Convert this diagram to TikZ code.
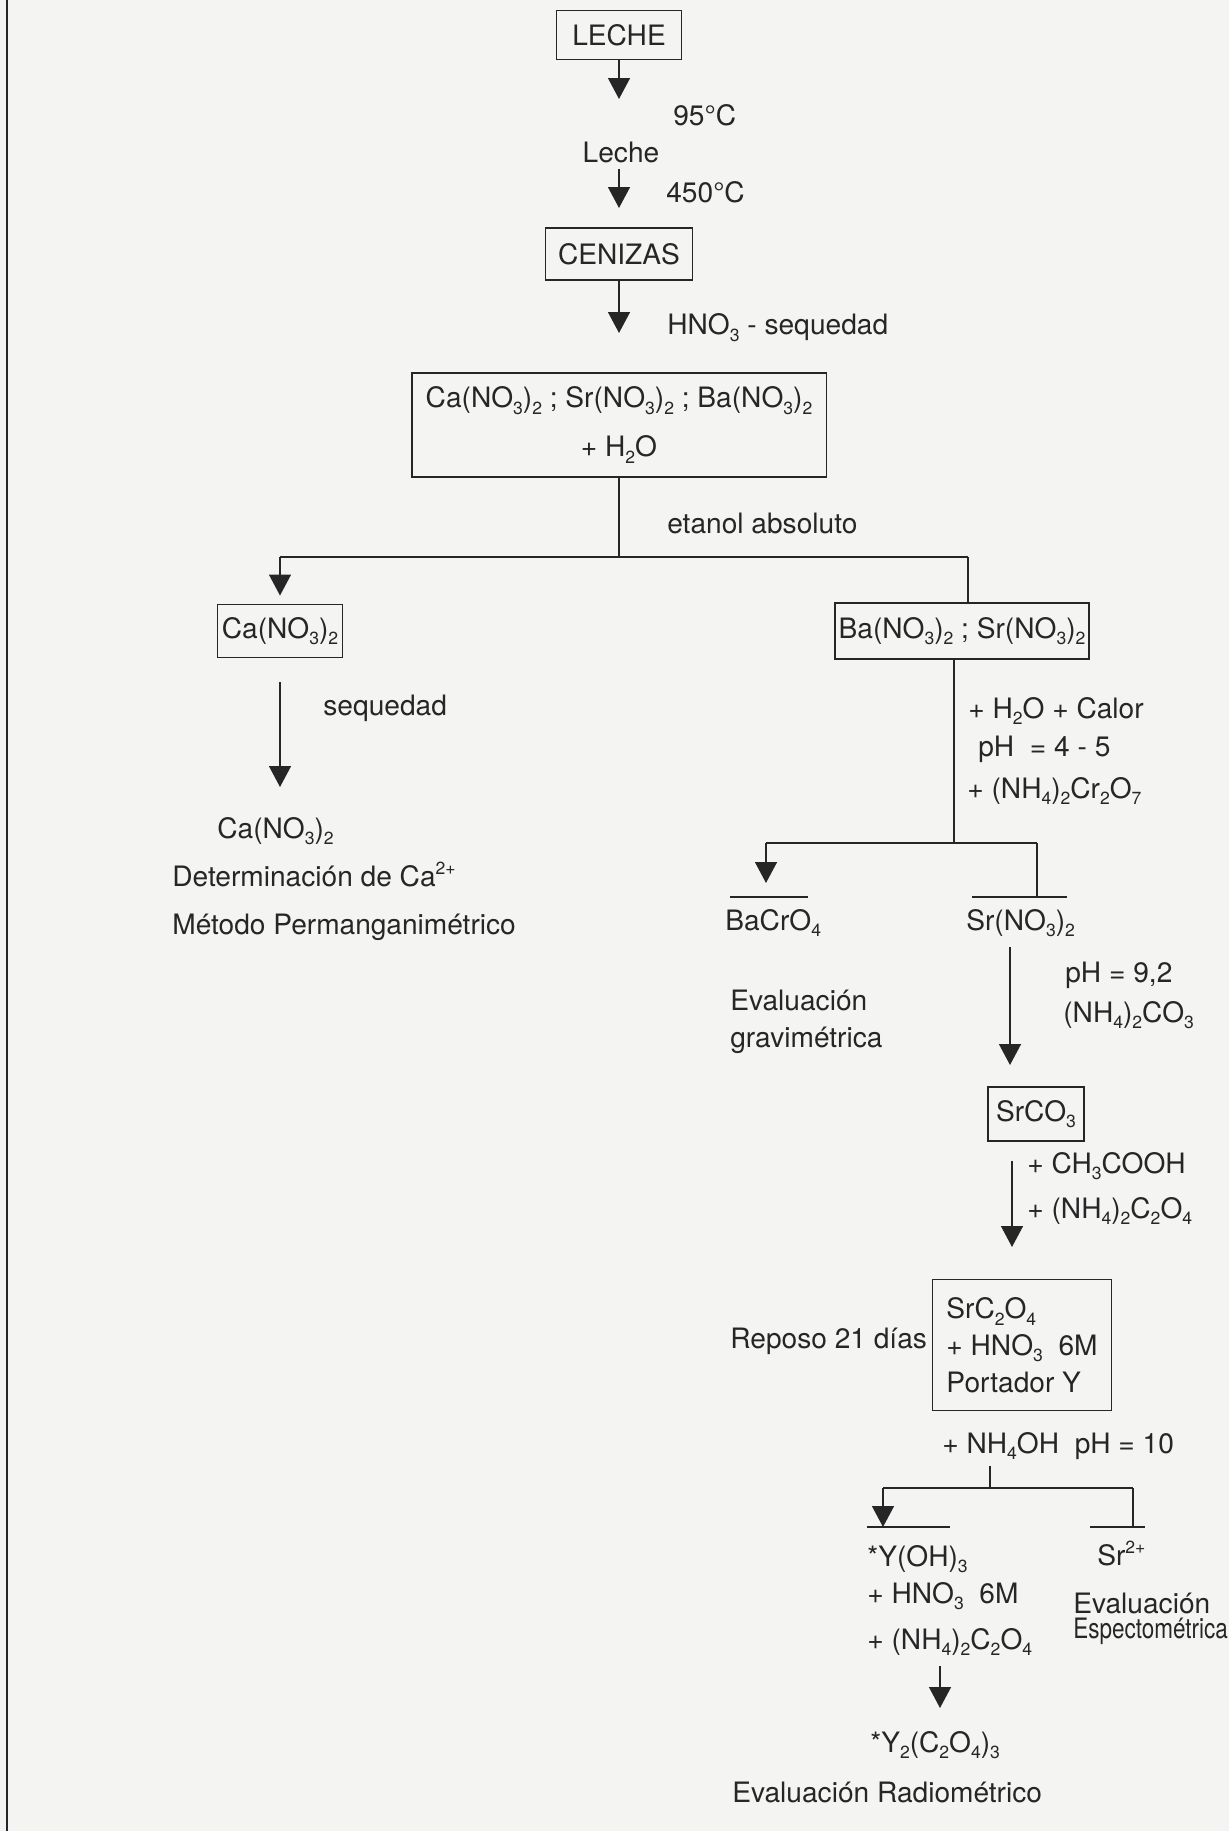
\documentclass[tikz,border=0pt]{standalone}
\usepackage{fontspec}
\setmainfont{TeX Gyre Heros}
\usepackage{graphicx}
\usetikzlibrary{arrows.meta}
\newcommand{\chsub}[1]{\raisebox{-0.45ex}{\fontsize{10}{10}\selectfont #1}}
\newcommand{\chsup}[1]{\raisebox{0.75ex}{\fontsize{10}{10}\selectfont #1}}
\definecolor{ink}{RGB}{38,38,38}
\definecolor{paper}{RGB}{244,245,243}
\tikzset{
  box/.style={draw=ink, line width=1.1pt, inner sep=2pt, text=ink},
  txt/.style={inner sep=0pt, text=ink},
  arr/.style={-{Triangle[width=0.44cm,length=0.42cm]}, draw=ink, line width=0.8pt},
  link/.style={draw=ink, line width=0.8pt},
  bar/.style={draw=ink, line width=1.1pt},
}
\begin{document}
\begin{tikzpicture}[x=0.02cm, y=-0.02cm, font=\fontsize{16}{19}\selectfont]
  \fill[paper] (0,0) rectangle (1229,1831);
  \useasboundingbox (0,0) rectangle (1229,1831);
  \draw[line width=1.7pt, ink] (7,0) -- (7,1831);

  % main line
  \node[box, minimum width=2.5cm, minimum height=0.98cm] (leche) at (619,35) {LECHE};
  \node[txt, anchor=base west] (t95) at (673,126) {95°C};
  \node[txt, anchor=base] (leche2) at (621,163) {Leche};
  \node[txt, anchor=base west] (t450) at (666,203) {450°C};
  \node[box, minimum width=2.94cm, minimum height=1.04cm] (cenizas) at (619,254) {CENIZAS};
  \node[txt, anchor=base west] (hno) at (667,335) {HNO\chsub{3} - sequedad};
  \node[box, minimum width=8.3cm, minimum height=2.08cm, align=center,
        font=\fontsize{16}{28}\selectfont] (mezcla) at (619,425)
    {Ca(NO\chsub{3})\chsub{2} ; Sr(NO\chsub{3})\chsub{2} ; Ba(NO\chsub{3})\chsub{2}\\ + H\chsub{2}O};
  \node[txt, anchor=base west] (etanol) at (667,533) {etanol absoluto};

  % calcium branch
  \node[box, minimum width=2.5cm, minimum height=1.06cm, inner sep=0pt] (ca) at (280,631) {Ca(NO\chsub{3})\chsub{2}};
  \node[txt, anchor=base west] (seq) at (323,715) {sequedad};
  \node[txt, anchor=base west] (ca2) at (217,838) {Ca(NO\chsub{3})\chsub{2}};
  \node[txt, anchor=base west] (det) at (172,886) {Determinación de Ca\chsup{2+}};
  \node[txt, anchor=base west] (met) at (172,934) {Método Permanganimétrico};

  % barium / strontium branch
  \node[box, minimum width=5.08cm, minimum height=1.12cm, inner sep=0pt] (ba) at (962,631)
    {Ba(NO\chsub{3})\chsub{2} ; Sr(NO\chsub{3})\chsub{2}};
  \node[txt, anchor=base west] (calor) at (968,718) {+ H\chsub{2}O + Calor};
  \node[txt, anchor=base west] (ph45) at (978,756) {pH\ \ = 4 - 5};
  \node[txt, anchor=base west] (dicr) at (967,798) {+ (NH\chsub{4})\chsub{2}Cr\chsub{2}O\chsub{7}};
  \node[txt, anchor=base west] (bacro) at (725,930) {BaCrO\chsub{4}};
  \node[txt, anchor=base west] (srno) at (966,930) {Sr(NO\chsub{3})\chsub{2}};
  \node[txt, anchor=base west] (eva) at (730,1010) {Evaluación};
  \node[txt, anchor=base west] (grav) at (730,1047) {gravimétrica};
  \node[txt, anchor=base west] (ph92) at (1065,982) {pH = 9,2};
  \node[txt, anchor=base west] (carb) at (1063,1022) {(NH\chsub{4})\chsub{2}CO\chsub{3}};
  \node[box, minimum width=1.92cm, minimum height=1.08cm, inner sep=0pt] (srco) at (1036,1114) {SrCO\chsub{3}};
  \node[txt, anchor=base west] (acet) at (1027,1173) {+ CH\chsub{3}COOH};
  \node[txt, anchor=base west] (oxa) at (1027,1218) {+ (NH\chsub{4})\chsub{2}C\chsub{2}O\chsub{4}};
  \node[box, minimum width=3.58cm, minimum height=2.62cm, align=left,
        font=\fontsize{16}{21}\selectfont] (srox) at (1022,1345)
    {SrC\chsub{2}O\chsub{4}\\ + HNO\chsub{3}\ \ 6M\\ Portador Y};
  \node[txt, anchor=base west] (reposo) at (730,1348) {Reposo 21 días};
  \node[txt, anchor=base west] (nhoh) at (942,1453) {+ NH\chsub{4}OH\ \ pH = 10};

  % yttrium
  \node[txt, anchor=base west] (yoh) at (867,1566) {*Y(OH)\chsub{3}};
  \node[txt, anchor=base west] (hno2) at (867,1603) {+ HNO\chsub{3}\ \ 6M};
  \node[txt, anchor=base west] (oxa2) at (867,1649) {+ (NH\chsub{4})\chsub{2}C\chsub{2}O\chsub{4}};
  \node[txt, anchor=base west] (yox) at (870,1752) {*Y\chsub{2}(C\chsub{2}O\chsub{4})\chsub{3}};
  \node[txt, anchor=base west] (radio) at (732,1802) {Evaluación Radiométrico};
  \node[txt, anchor=base west] (sr2) at (1097,1565) {Sr\chsup{2+}};
  \node[txt, anchor=base west] (eva2) at (1073,1613) {Evaluación};
  \node[txt, anchor=base west] (esp) at (1073,1638) {\scalebox{0.8}[1]{Espectométrica}};

  % junctions and free ends
  \coordinate (a1) at (619,99);
  \coordinate (a2) at (619,208);
  \coordinate (a3) at (619,333);
  \coordinate (j1) at (619,557);
  \coordinate (jl) at (280,557);
  \coordinate (jr) at (968,557);
  \coordinate (s2) at (280,787);
  \coordinate (j2) at (954,843);
  \coordinate (j2l) at (766,843);
  \coordinate (j2r) at (1037,843);
  \coordinate (b1) at (766,883);
  \coordinate (b2) at (1037,897);
  \coordinate (ba1) at (730,897);
  \coordinate (ba2) at (808,897);
  \coordinate (sr1) at (972,897);
  \coordinate (sr2b) at (1067,897);
  \coordinate (c1) at (1010,1065);
  \coordinate (c2) at (1012,1247);
  \coordinate (j3) at (990,1488);
  \coordinate (j3l) at (883,1488);
  \coordinate (j3r) at (1133,1488);
  \coordinate (d1) at (883,1527);
  \coordinate (d2) at (1133,1527);
  \coordinate (y1) at (867,1527);
  \coordinate (y2) at (950,1527);
  \coordinate (z1) at (1090,1527);
  \coordinate (z2) at (1145,1527);
  \coordinate (e1) at (940,1708);

  \begin{scope}[arr]
    \draw (leche) to (a1);
    \draw[shorten <=0.1cm] (leche2.south -| a2) to (a2);
    \draw (cenizas) to (a3);
    \draw[shorten >=0.16cm] (jl) to (ca);
    \draw[shorten <=0.48cm] (ca.south) to (s2);
    \draw (j2l) to (b1);
    \draw[shorten <=0.2cm] (srno.south -| c1) to (c1);
    \draw[shorten <=0.38cm] (srco.south -| c2) to (c2);
    \draw (j3l) to (d1);
    \draw[shorten <=0.2cm] (oxa2.south -| e1) to (e1);
  \end{scope}
  \begin{scope}[link]
    \draw (mezcla) to (j1);
    \draw (jl) to (jr);
    \draw (jr) to (jr |- ba.north);
    \draw (ba.south -| j2) to (j2);
    \draw (j2l) to (j2r);
    \draw (j2r) to (b2);
    \draw[shorten <=0.12cm] (nhoh.south -| j3) to (j3);
    \draw (j3l) to (j3r);
    \draw (j3r) to (d2);
  \end{scope}
  \begin{scope}[bar]
    \draw (ba1) to (ba2);
    \draw (sr1) to (sr2b);
    \draw (y1) to (y2);
    \draw (z1) to (z2);
  \end{scope}
\end{tikzpicture}
\end{document}
